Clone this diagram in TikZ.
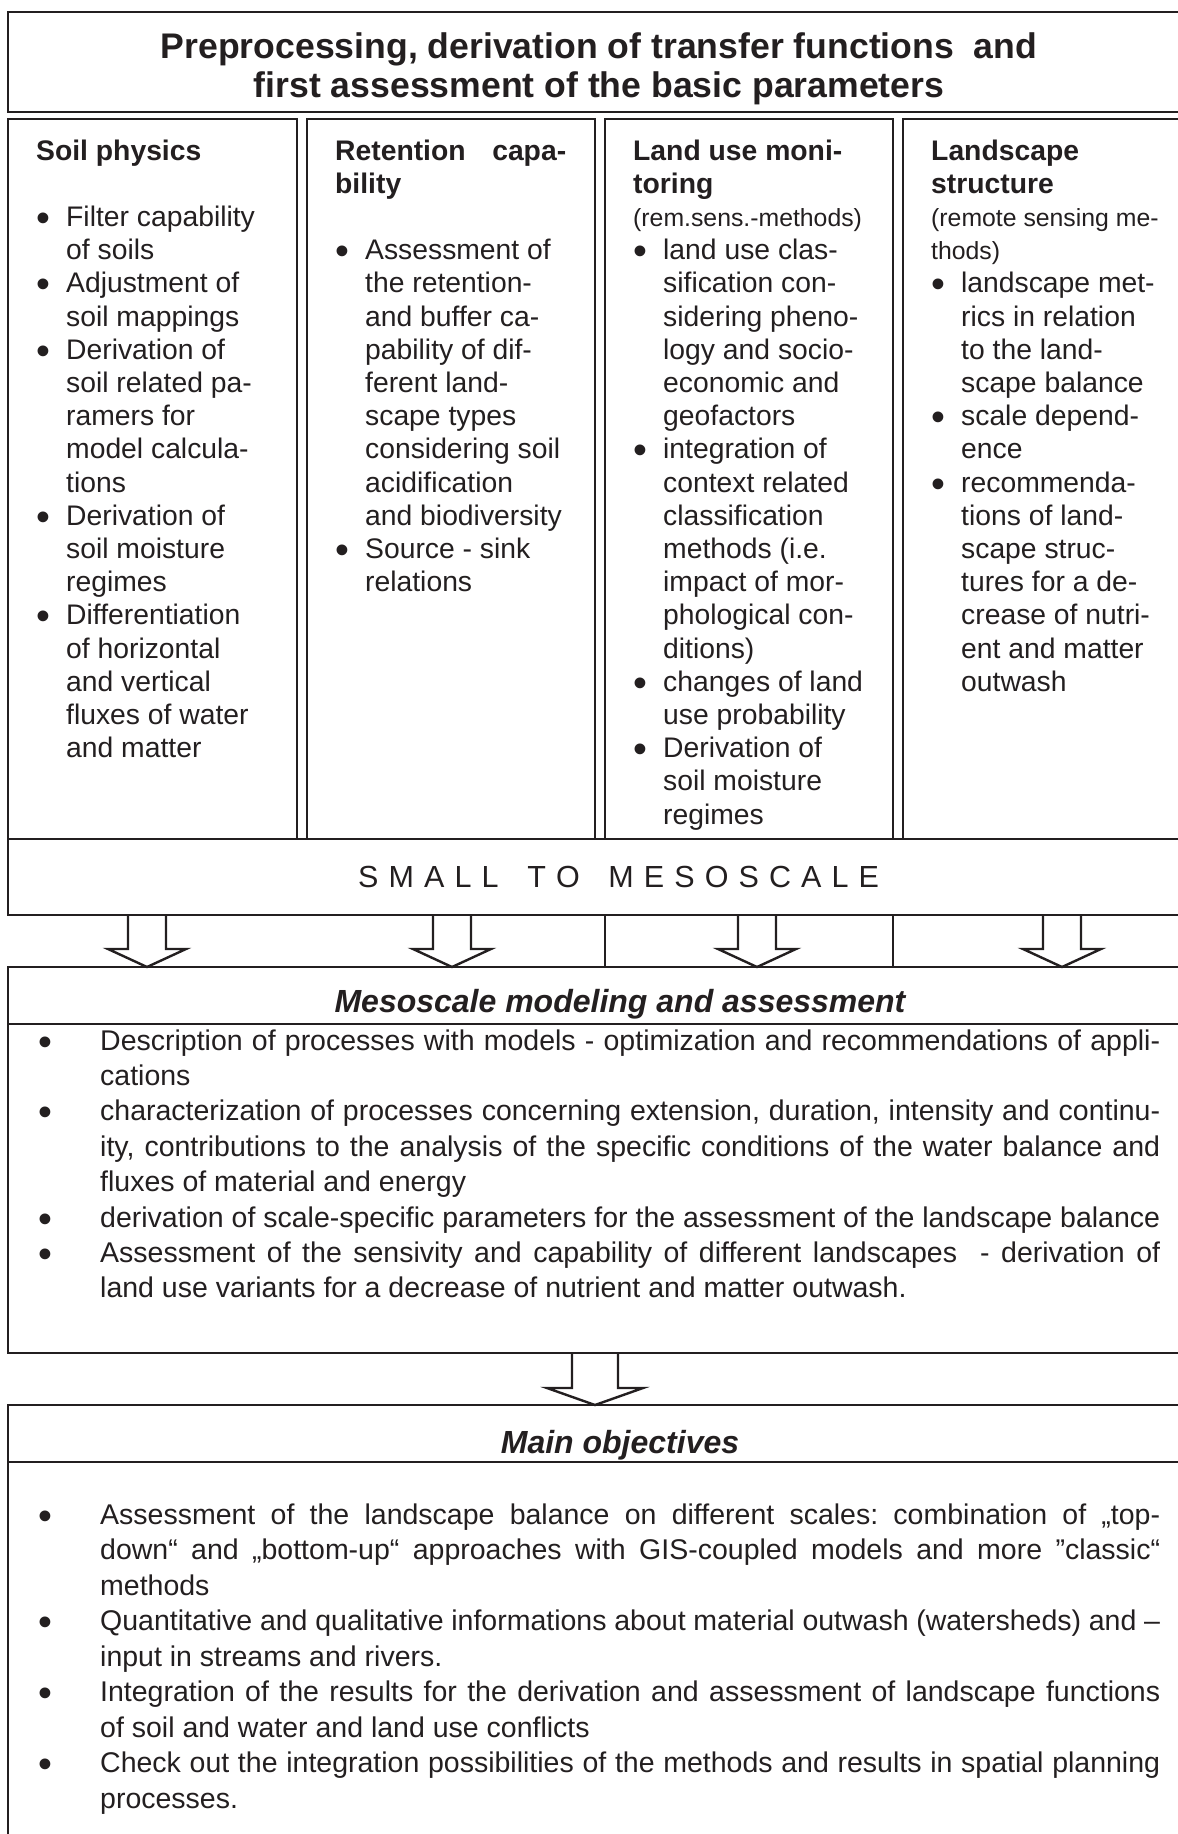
\documentclass[tikz,border=0pt]{standalone}
\usepackage{fontspec}
\setmainfont{Liberation Sans}
\usetikzlibrary{calc}
\definecolor{ink}{RGB}{35,31,32}
\frenchspacing

% row grid of the four column boxes
\newcommand\rowy[1]{160+#1*33.2}
% list bullet glyph, enlarged and kept on the x-height
\newcommand\bul{\raisebox{-5pt}{\scalebox{1.4}{•}}}
% column heading, note, bulleted line and continuation line (name, left edge, row, text)
\newcommand\colhd[4]{\node[colhead] (#1) at ({#2+28},{\rowy{#3}}) {#4};}
\newcommand\colnt[4]{\node[colnote] (#1) at ({#2+28},{\rowy{#3}}) {#4};}
\newcommand\colbl[4]{\node[bulletdot] (#1dot) at ({#2+35},{\rowy{#3}}) {\bul};\node[coltxt] (#1) at ({#2+58},{\rowy{#3}}) {#4};}
\newcommand\colln[4]{\node[coltxt] (#1) at ({#2+58},{\rowy{#3}}) {#4};}
% full-width lists (name, baseline, text)
\newcommand\lowbl[3]{\node[bulletdot] (#1dot) at (45,#2) {\bul};\node[lowtxt] (#1) at (100,#2) {#3};}
\newcommand\lowln[3]{\node[lowtxt] (#1) at (100,#2) {#3};}
\newcommand\just[1]{\makebox[1060pt][s]{#1}}
% tracking for the scale banner
\newcommand\trk{\kern10.1pt}
% hollow block arrow from one point down to another
\newcommand\blockarrow[5]{\draw[arrowline] let \p1=(#1), \p2=(#2) in
  (\x1-#3,\y1) -- (\x1-#3,\y2+#5) -- (\x1-#4,\y2+#5) -- (\x1,\y2)
  -- (\x1+#4,\y2+#5) -- (\x1+#3,\y2+#5) -- (\x1+#3,\y1);}

\begin{document}
\begin{tikzpicture}[x=1pt,y=-1pt,
  boxframe/.style={rectangle, draw=ink, line width=2.4pt, fill=white, inner sep=0pt, outer sep=0pt, anchor=north west},
  rule/.style={draw=ink, line width=2.4pt},
  headtxt/.style={anchor=base, inner sep=0pt, text=ink, font=\fontsize{35.6}{39}\selectfont\bfseries},
  colhead/.style={anchor=base west, inner sep=0pt, text=ink, font=\fontsize{28.3}{33.2}\selectfont\bfseries},
  coltxt/.style={anchor=base west, inner sep=0pt, text=ink, font=\fontsize{28.3}{33.2}\selectfont},
  colnote/.style={anchor=base west, inner sep=0pt, text=ink, font=\fontsize{24.8}{29}\selectfont},
  bulletdot/.style={anchor=base, inner sep=0pt, text=ink, font=\fontsize{28.3}{33.2}\selectfont},
  sectitle/.style={anchor=base, inner sep=0pt, text=ink, font=\fontsize{32}{36}\selectfont\bfseries\itshape},
  lowtxt/.style={anchor=base west, inner sep=0pt, text=ink, font=\fontsize{28.5}{35}\selectfont},
  scaletxt/.style={anchor=base west, inner sep=0pt, text=ink, font=\fontsize{30.5}{34}\selectfont},
  arrowline/.style={draw=ink, line width=2.4pt, line join=miter}
]
\useasboundingbox (0,0) rectangle (1178,1834);
\clip (0,0) rectangle (1178,1834);

% ---------- boxes ----------
\node[boxframe, minimum width=1182pt, minimum height=100pt] (head) at (8,12) {};
\node[boxframe, minimum width=289pt, minimum height=720pt] (soil) at (8,119) {};
\node[boxframe, minimum width=288pt, minimum height=720pt] (ret) at (307,119) {};
\node[boxframe, minimum width=288pt, minimum height=720pt] (land) at (605,119) {};
\node[boxframe, minimum width=289pt, minimum height=720pt] (scape) at (903,119) {};
\node[boxframe, minimum width=1224pt, minimum height=76pt] (small) at (8,839) {};
\node[boxframe, minimum width=1224pt, minimum height=57pt] (mesohead) at (8,967) {};
\node[boxframe, minimum width=1224pt, minimum height=329pt] (mesobody) at (8,1024) {};
\node[boxframe, minimum width=1224pt, minimum height=57pt] (mainhead) at (8,1405) {};
\node[boxframe, minimum width=1224pt, minimum height=420pt] (mainbody) at (8,1462) {};

% ---------- heading ----------
\node[headtxt] (t1) at (599,58) {Preprocessing, derivation of transfer functions~ and};
\node[headtxt] (t2) at (599,97) {first assessment of the basic parameters};

% ---------- soil physics ----------
\colhd{s0}{8}{0}{Soil physics}
\colbl{s2}{8}{2}{Filter capability}
\colln{s3}{8}{3}{of soils}
\colbl{s4}{8}{4}{Adjustment of}
\colln{s5}{8}{5}{soil mappings}
\colbl{s6}{8}{6}{Derivation of}
\colln{s7}{8}{7}{soil related pa-}
\colln{s8}{8}{8}{ramers for}
\colln{s9}{8}{9}{model calcula-}
\colln{s10}{8}{10}{tions}
\colbl{s11}{8}{11}{Derivation of}
\colln{s12}{8}{12}{soil moisture}
\colln{s13}{8}{13}{regimes}
\colbl{s14}{8}{14}{Differentiation}
\colln{s15}{8}{15}{of horizontal}
\colln{s16}{8}{16}{and vertical}
\colln{s17}{8}{17}{fluxes of water}
\colln{s18}{8}{18}{and matter}

% ---------- retention capability ----------
\colhd{r0}{307}{0}{\makebox[231pt][s]{Retention capa-}}
\colhd{r1}{307}{1}{bility}
\colbl{r3}{307}{3}{Assessment of}
\colln{r4}{307}{4}{the retention-}
\colln{r5}{307}{5}{and buffer ca-}
\colln{r6}{307}{6}{pability of dif-}
\colln{r7}{307}{7}{ferent land-}
\colln{r8}{307}{8}{scape types}
\colln{r9}{307}{9}{considering soil}
\colln{r10}{307}{10}{acidification}
\colln{r11}{307}{11}{and biodiversity}
\colbl{r12}{307}{12}{Source - sink}
\colln{r13}{307}{13}{relations}

% ---------- land use monitoring ----------
\colhd{l0}{605}{0}{Land use moni-}
\colhd{l1}{605}{1}{toring}
\colnt{l2}{605}{2}{(rem.sens.-methods)}
\colbl{l3}{605}{3}{land use clas-}
\colln{l4}{605}{4}{sification con-}
\colln{l5}{605}{5}{sidering pheno-}
\colln{l6}{605}{6}{logy and socio-}
\colln{l7}{605}{7}{economic and}
\colln{l8}{605}{8}{geofactors}
\colbl{l9}{605}{9}{integration of}
\colln{l10}{605}{10}{context related}
\colln{l11}{605}{11}{classification}
\colln{l12}{605}{12}{methods (i.e.}
\colln{l13}{605}{13}{impact of mor-}
\colln{l14}{605}{14}{phological con-}
\colln{l15}{605}{15}{ditions)}
\colbl{l16}{605}{16}{changes of land}
\colln{l17}{605}{17}{use probability}
\colbl{l18}{605}{18}{Derivation of}
\colln{l19}{605}{19}{soil moisture}
\colln{l20}{605}{20}{regimes}

% ---------- landscape structure ----------
\colhd{k0}{903}{0}{Landscape}
\colhd{k1}{903}{1}{structure}
\colnt{k2}{903}{2}{(remote sensing me-}
\colnt{k3}{903}{3}{thods)}
\colbl{k4}{903}{4}{landscape met-}
\colln{k5}{903}{5}{rics in relation}
\colln{k6}{903}{6}{to the land-}
\colln{k7}{903}{7}{scape balance}
\colbl{k8}{903}{8}{scale depend-}
\colln{k9}{903}{9}{ence}
\colbl{k10}{903}{10}{recommenda-}
\colln{k11}{903}{11}{tions of land-}
\colln{k12}{903}{12}{scape struc-}
\colln{k13}{903}{13}{tures for a de-}
\colln{k14}{903}{14}{crease of nutri-}
\colln{k15}{903}{15}{ent and matter}
\colln{k16}{903}{16}{outwash}

% ---------- scale banner ----------
\node[scaletxt] (scale) at (358,887) {S\trk M\trk A\trk L\trk L\trk\hspace{8.5pt}\trk T\trk O\trk\hspace{8.5pt}\trk M\trk E\trk S\trk O\trk S\trk C\trk A\trk L\trk E};

% ---------- arrows between the stages ----------
\coordinate (ax1) at (147,0);
\coordinate (ax2) at (452,0);
\coordinate (ax3) at (757,0);
\coordinate (ax4) at (1062,0);
\coordinate (ax5) at (595,0);
\draw[rule] (small.south -| land.west) -- (mesohead.north -| land.west);
\draw[rule] (small.south -| land.east) -- (mesohead.north -| land.east);
\blockarrow{small.south -| ax1}{mesohead.north -| ax1}{19pt}{39pt}{18pt}
\blockarrow{small.south -| ax2}{mesohead.north -| ax2}{19pt}{39pt}{18pt}
\blockarrow{small.south -| ax3}{mesohead.north -| ax3}{19pt}{39pt}{18pt}
\blockarrow{small.south -| ax4}{mesohead.north -| ax4}{19pt}{39pt}{18pt}
\blockarrow{mesobody.south -| ax5}{mainhead.north -| ax5}{23pt}{48pt}{17pt}

% ---------- mesoscale modeling ----------
\node[sectitle] (mesotitle) at (620,1012) {Mesoscale modeling and assessment};
\lowbl{m0}{1050}{\just{Description of processes with models - optimization and recommendations of appli-}}
\lowln{m1}{1085.4}{cations}
\lowbl{m2}{1120.8}{\just{characterization of processes concerning extension, duration, intensity and continu-}}
\lowln{m3}{1156.2}{\just{ity, contributions to the analysis of the specific conditions of the water balance and}}
\lowln{m4}{1191.6}{fluxes of material and energy}
\lowbl{m5}{1227}{\just{derivation of scale-specific parameters for the assessment of the landscape balance}}
\lowbl{m6}{1262.4}{\just{Assessment of the sensivity and capability of different landscapes~ - derivation of}}
\lowln{m7}{1297.8}{land use variants for a decrease of nutrient and matter outwash.}

% ---------- main objectives ----------
\node[sectitle] (maintitle) at (620,1453) {Main objectives};
\lowbl{o0}{1524}{\just{Assessment of the landscape balance on different scales: combination of „top-}}
\lowln{o1}{1559.5}{\just{down“ and „bottom-up“ approaches with GIS-coupled models and more ”classic“}}
\lowln{o2}{1595}{methods}
\lowbl{o3}{1630.5}{\just{Quantitative and qualitative informations about material outwash (watersheds) and –}}
\lowln{o4}{1666}{input in streams and rivers.}
\lowbl{o5}{1701.5}{\just{Integration of the results for the derivation and assessment of landscape functions}}
\lowln{o6}{1737}{of soil and water and land use conflicts}
\lowbl{o7}{1772.5}{\just{Check out the integration possibilities of the methods and results in spatial planning}}
\lowln{o8}{1808}{processes.}
\end{tikzpicture}
\end{document}
